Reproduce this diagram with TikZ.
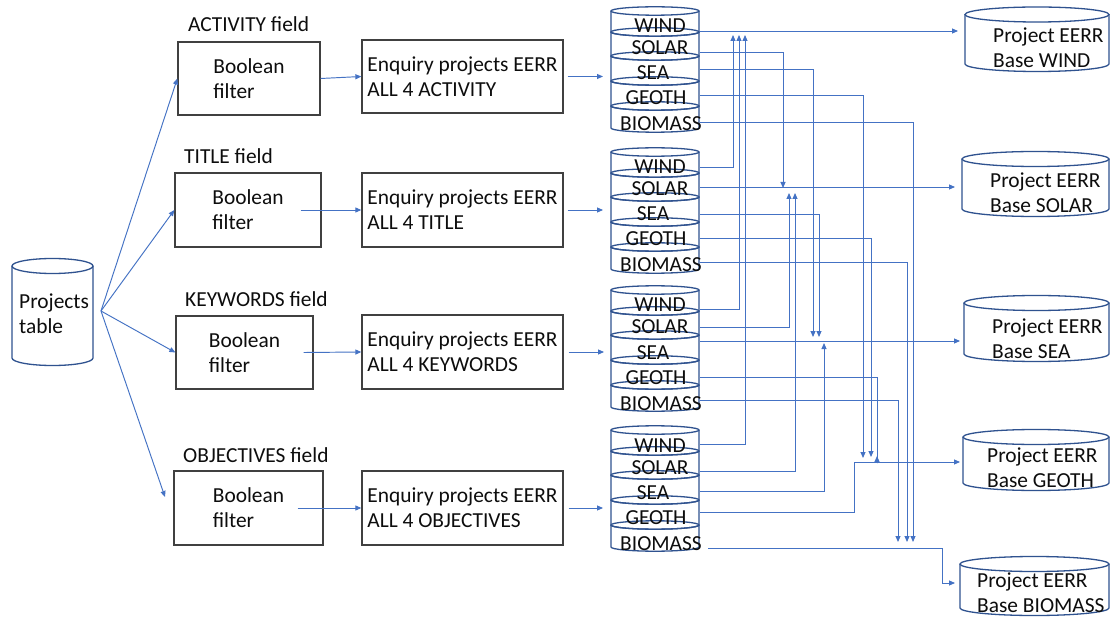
\documentclass[tikz,border=0pt]{standalone}
\usepackage{fontspec}
\setmainfont{Carlito}
\usetikzlibrary{arrows.meta,calc}

\definecolor{wire}{HTML}{4472C4}
\definecolor{dbnavy}{HTML}{2F528F}
\definecolor{boxgrey}{HTML}{404040}
\definecolor{ink}{HTML}{0D0D0D}

\newcommand\txtfont{\fontsize{21.4}{25}\selectfont}
% database cylinder: centre x, x radius, top y, bottom y, ellipse y radius
\newcommand\dbcyl[5]{%
  \draw[dbline] ({#1-#2},#3) -- ({#1-#2},#4)
     arc[start angle=180,end angle=360,x radius=#2pt,y radius=#5pt] -- ({#1+#2},#3);
  \draw[dbline] (#1,#3) ellipse[x radius=#2pt,y radius=#5pt];
}

\tikzset{
  conn/.style={draw=wire, line width=0.95pt, -{Triangle[length=6pt,width=5pt]}},
  dbline/.style={draw=dbnavy, line width=1.3pt},
  txt/.style={font=\txtfont, text=ink, inner sep=0pt},
  procbox/.style={txt, draw=boxgrey, line width=1.3pt, align=left},
  stackarea/.style={inner sep=0pt, minimum width=88pt, minimum height=117pt, anchor=north west},
}

\begin{document}
\begin{tikzpicture}[x=1pt,y=-1pt]
\useasboundingbox (0,0) rectangle (1110,617);
\fill[white] (0,0) rectangle (1110,617);
\clip (0,0) rectangle (1110,617);

% ---------- source table ----------
\dbcyl{52.5}{40.5}{266}{358}{7.5}
\node[txt, align=left, anchor=west] (ptab) at (19,314) {Projects\\table};
\coordinate (ptab-out) at (101,311);

% ---------- field labels ----------
\node[txt, anchor=base west] (fl1) at (188,32) {ACTIVITY field};
\node[txt, anchor=base west] (fl2) at (184,164) {TITLE field};
\node[txt, anchor=base west] (fl3) at (185,307) {KEYWORDS field};
\node[txt, anchor=base west] (fl4) at (183,462) {OBJECTIVES field};

% ---------- boolean filters ----------
\node[procbox, minimum width=142pt, minimum height=73pt] (f1) at (249,78.5) {Boolean\\filter};
\node[procbox, minimum width=146pt, minimum height=74pt] (f2) at (248,210) {Boolean\\filter};
\node[procbox, minimum width=137pt, minimum height=73pt] (f3) at (244.5,352.5) {Boolean\\filter};
\node[procbox, minimum width=149pt, minimum height=74pt] (f4) at (248.5,508) {Boolean\\filter};
\coordinate (f4-in) at (165,497);

% ---------- enquiries ----------
\node[procbox, minimum width=201pt, minimum height=73pt] (q1) at (462.5,76.5) {Enquiry projects EERR\\ALL 4 ACTIVITY};
\node[procbox, minimum width=201pt, minimum height=74pt] (q2) at (462.5,210) {Enquiry projects EERR\\ALL 4 TITLE};
\node[procbox, minimum width=201pt, minimum height=74pt] (q3) at (462.5,352) {Enquiry projects EERR\\ALL 4 KEYWORDS};
\node[procbox, minimum width=201pt, minimum height=74pt] (q4) at (462.5,508) {Enquiry projects EERR\\ALL 4 OBJECTIVES};

% ---------- result stacks ----------
\foreach \T/\k in {11/1,152/2,290/3,430/4} {
  \node[stackarea] (st\k) at (611,\T) {};
  \foreach \a/\b in {0/21,21/45,45/70,70/95,95/117} {
    \dbcyl{655}{44}{\T+\a}{\T+\b}{4.2}
  }
  \node[txt, anchor=base] (st\k-lw) at (660,\T+22) {WIND};
  \node[txt, anchor=base] (st\k-ls) at (660,\T+44) {SOLAR};
  \node[txt, anchor=base] (st\k-le) at (653,\T+69) {SEA};
  \node[txt, anchor=base] (st\k-lg) at (656,\T+94) {GEOTH};
  \node[txt, anchor=base] (st\k-lb) at (661,\T+120) {BIOMASS};
}

% ---------- per-source bases ----------
\dbcyl{1037}{72}{14.5}{64}{7.5}
\node[txt, align=left, anchor=west] (bwind) at (993,48) {Project EERR\\Base WIND};
\dbcyl{1035.5}{73.5}{159}{209}{7.5}
\node[txt, align=left, anchor=west] (bsolar) at (990,193) {Project EERR\\Base SOLAR};
\dbcyl{1036.5}{72.5}{303}{354}{7.5}
\node[txt, align=left, anchor=west] (bsea) at (992,339) {Project EERR\\Base SEA};
\dbcyl{1036}{73}{437}{483}{7.5}
\node[txt, align=left, anchor=west] (bgeo) at (987,468) {Project EERR\\Base GEOTH};
\dbcyl{1034.5}{74.5}{564}{608}{7.5}
\node[txt, align=left, anchor=west] (bbio) at (977,593) {Project EERR\\Base BIOMASS};

\coordinate (bwind-in) at (958,31);
\coordinate (bsolar-in) at (955,187);
\coordinate (bsea-in) at (960,341);
\coordinate (bgeo-in) at (960,462);
\coordinate (bbio-in) at (955,583);

% ---------- flow into filters and enquiries ----------
\draw[conn] (ptab-out) -- (f1.west);
\draw[conn] (ptab-out) -- (f2.west);
\draw[conn] (ptab-out) -- (f3.west);
\draw[conn] (ptab-out) -- (f4-in);

\draw[conn] (f1.east) -- (q1.west);
\draw[conn] ([xshift=-21pt]f2.east) -- (q2.west);
\draw[conn] ([xshift=-10pt]f3.east) -- (q3.west);
\draw[conn] ([xshift=-26pt]f4.east) -- (q4.west);

\draw[conn] ([xshift=4pt]q1.east) -- ([xshift=-8pt]st1.west |- q1.east);
\draw[conn] ([xshift=4pt]q2.east) -- ([xshift=-8pt]st2.west |- q2.east);
\draw[conn] ([xshift=5pt]q3.east) -- ([xshift=-7pt]st3.west |- q3.east);
\draw[conn] ([xshift=5pt]q4.east) -- ([xshift=-8pt]st4.west |- q4.east);

% ---------- outlets of the stacks ----------
\foreach \k/\yw/\ys/\ye/\yg/\yb in {1/31/52/69/95/122, 2/167/187/214/238/262,
                                    3/309/327/341/377/400, 4/444/471/491/512/548} {
  \coordinate (st\k-wind) at (700,\yw);
  \coordinate (st\k-solar) at (700,\ys);
  \coordinate (st\k-sea) at (700,\ye);
  \coordinate (st\k-geo) at (700,\yg);
  \coordinate (st\k-bio) at (700,\yb);
}
\coordinate (st4-bio) at (708,548);

% bus end points
\coordinate (wind-t2) at (733,35);
\coordinate (wind-t3) at (739,35);
\coordinate (wind-t4) at (745,35);
\coordinate (solar-t1) at (783,188);
\coordinate (solar-t3) at (789,193);
\coordinate (solar-t4) at (795,193);
\coordinate (sea-t1) at (813,337);
\coordinate (sea-t2) at (819,337);
\coordinate (sea-t4) at (824,343);
\coordinate (geo-t1) at (863,458);
\coordinate (geo-t2) at (871,457);
\coordinate (geo-bend3) at (877,463);
\coordinate (geo-t3) at (877,456);
\coordinate (geo-bend4) at (854,462);
\coordinate (bio-t1) at (913,542);
\coordinate (bio-t2) at (907,542);
\coordinate (bio-t3) at (898,542);
\coordinate (bio-bend4) at (942,583);

% WIND
\draw[conn] (st1-wind) -- (bwind-in);
\draw[conn] (st2-wind) -| (wind-t2);
\draw[conn] (st3-wind) -| (wind-t3);
\draw[conn] (st4-wind) -| (wind-t4);
% SOLAR
\draw[conn] (st2-solar) -- (bsolar-in);
\draw[conn] (st1-solar) -| (solar-t1);
\draw[conn] (st3-solar) -| (solar-t3);
\draw[conn] (st4-solar) -| (solar-t4);
% SEA
\draw[conn] (st3-sea) -- (bsea-in);
\draw[conn] (st1-sea) -| (sea-t1);
\draw[conn] (st2-sea) -| (sea-t2);
\draw[conn] (st4-sea) -| (sea-t4);
% GEOTH
\draw[conn] (st4-geo) -| (geo-bend4) -- (bgeo-in);
\draw[conn] (st1-geo) -| (geo-t1);
\draw[conn] (st2-geo) -| (geo-t2);
\draw[conn] (st3-geo) -| (geo-bend3) -- (geo-t3);
% BIOMASS
\draw[conn] (st4-bio) -| (bio-bend4) -- (bbio-in);
\draw[conn] (st1-bio) -| (bio-t1);
\draw[conn] (st2-bio) -| (bio-t2);
\draw[conn] (st3-bio) -| (bio-t3);
\end{tikzpicture}
\end{document}
